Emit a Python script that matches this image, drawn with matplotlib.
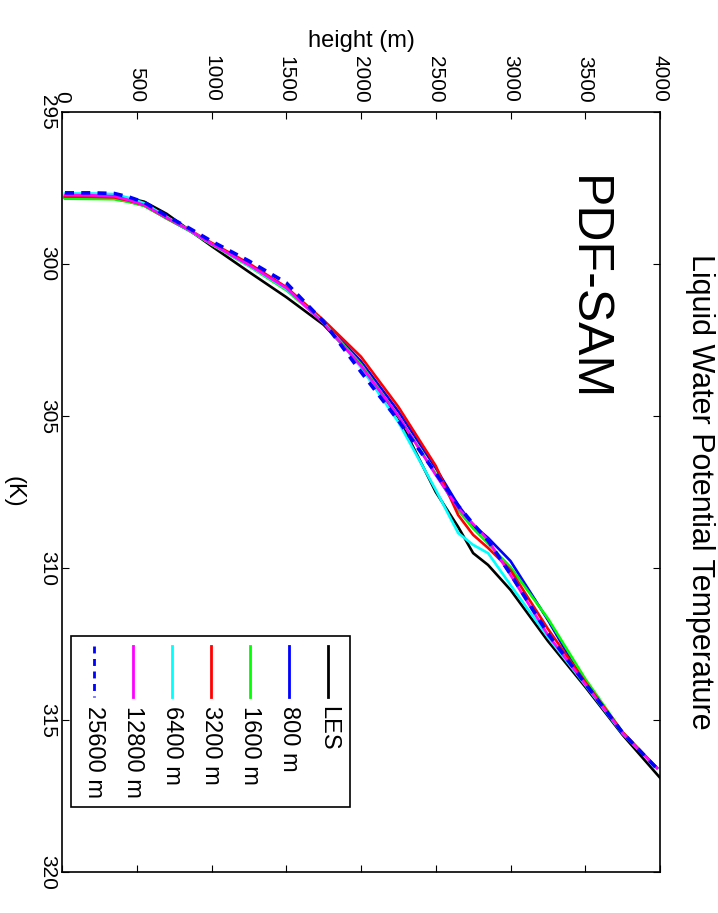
import numpy as np
import matplotlib
matplotlib.use('Agg')
import matplotlib.pyplot as plt
from matplotlib.patches import Rectangle

plt.rcParams['font.family'] = ['Liberation Sans', 'DejaVu Sans']

# heights (m) and liquid water potential temperature (K) per run
height = [20, 200, 350, 450, 550, 700, 850, 1000, 1250, 1500, 1750, 2000, 2250,
          2500, 2650, 2750, 2850, 3000, 3250, 3500, 3750, 3980]
height_les = height[:-1] + [4000]

thl_les = [297.80, 297.81, 297.82, 297.84, 297.95, 298.35, 298.88, 299.41, 300.26, 301.09, 302.00,
           303.30, 305.05, 307.50, 308.65, 309.51, 309.90, 310.72, 312.40, 313.91, 315.49, 316.90]
thl_800 = [297.82, 297.83, 297.85, 297.95, 298.08, 298.50, 298.90, 299.34, 300.03, 300.82, 301.90,
           303.20, 304.85, 306.71, 307.93, 308.59, 309.01, 309.77, 311.71, 313.82, 315.43, 316.58]
thl_1600 = [297.85, 297.86, 297.87, 297.96, 298.09, 298.50, 298.90, 299.36, 300.07, 300.86, 301.92,
            303.30, 305.00, 306.90, 308.10, 308.70, 309.20, 309.97, 311.66, 313.65, 315.40, 316.58]
thl_3200 = [297.78, 297.79, 297.81, 297.92, 298.06, 298.48, 298.87, 299.30, 299.98, 300.76, 301.85,
            303.05, 304.70, 306.64, 308.26, 308.91, 309.34, 310.07, 312.00, 313.75, 315.40, 316.58]
thl_6400 = [297.68, 297.68, 297.70, 297.83, 298.00, 298.45, 298.88, 299.34, 300.05, 300.82, 301.92,
            303.40, 305.20, 307.43, 308.85, 309.24, 309.51, 310.56, 312.27, 313.85, 315.45, 316.60]
thl_12800 = [297.73, 297.74, 297.77, 297.90, 298.06, 298.47, 298.88, 299.34, 300.03, 300.79, 301.95,
             303.35, 305.00, 306.94, 308.03, 308.55, 309.08, 310.23, 312.20, 313.82, 315.43, 316.58]
thl_25600 = [297.66, 297.66, 297.68, 297.80, 297.97, 298.42, 298.82, 299.25, 299.90, 300.62, 301.90,
             303.55, 305.15, 306.88, 307.95, 308.55, 309.10, 310.20, 312.15, 313.80, 315.42, 316.60]

labels = ['LES', '800 m', '1600 m', '3200 m', '6400 m', '12800 m', '25600 m']
colors = ['black', 'blue', '#00ff00', 'red', 'cyan', 'magenta', 'blue']
series = [thl_les, thl_800, thl_1600, thl_3200, thl_6400, thl_12800, thl_25600]
dash = (0, (2.5, 2.0))

fig = plt.figure(figsize=(7.18, 9.13), dpi=100)
ax = fig.add_axes([62 / 718, 1 - 872 / 913, 598 / 718, 760 / 913])

for i, (lab, c, t) in enumerate(zip(labels, colors, series)):
    h = height_les if i == 0 else height
    if lab == '25600 m':
        ax.plot(h, t, color=c, lw=2.6, ls=dash)
    else:
        ax.plot(h, t, color=c, lw=1.9)

ax.set_xlim(0, 4000)
ax.set_ylim(320, 295)
ax.set_xticks(np.arange(0, 4001, 500))
ax.set_yticks(np.arange(295, 321, 5))
ax.xaxis.tick_top()
ax.xaxis.set_label_position('top')
ax.tick_params(direction='in', top=True, bottom=True, left=True, right=True,
               labeltop=True, labelbottom=False, length=5, width=0.8, labelsize=15)
ax.tick_params(axis='x', pad=7)
for lbl in ax.get_xticklabels():
    lbl.set_rotation(-90)
for lbl in ax.get_yticklabels():
    lbl.set_rotation(-90)
    lbl.set_verticalalignment('center')
for s in ax.spines.values():
    s.set_linewidth(1.2)

ax.set_xlabel('height (m)', fontsize=17, labelpad=6)
ax.set_ylabel('(K)', fontsize=17, rotation=-90)
ax.yaxis.set_label_coords(-0.1, 0.5)

ax.text(1.067, 0.5, 'Liquid Water Potential Temperature', transform=ax.transAxes,
        rotation=-90, ha='center', va='center', fontsize=22)
ax.text(3512, 300.8, 'PDF-SAM', rotation=-90, ha='center', va='center', fontsize=36)

# hand-made rotated legend
ax.add_patch(Rectangle((0.015, 0.0855), 0.467, 0.225, transform=ax.transAxes,
                       fill=False, edgecolor='black', lw=1.2, zorder=5))
for i, (lab, c) in enumerate(zip(labels, colors)):
    xp = 0.4445 - i * 0.0652
    ls = dash if lab == '25600 m' else '-'
    ax.plot([xp, xp], [0.297, 0.230], transform=ax.transAxes, color=c,
            lw=2.0, ls=ls, zorder=6)
    ax.text(xp, 0.219, lab, transform=ax.transAxes, rotation=-90,
            ha='center', va='top', fontsize=17, zorder=6)

fig.savefig('out.png', dpi=100)
